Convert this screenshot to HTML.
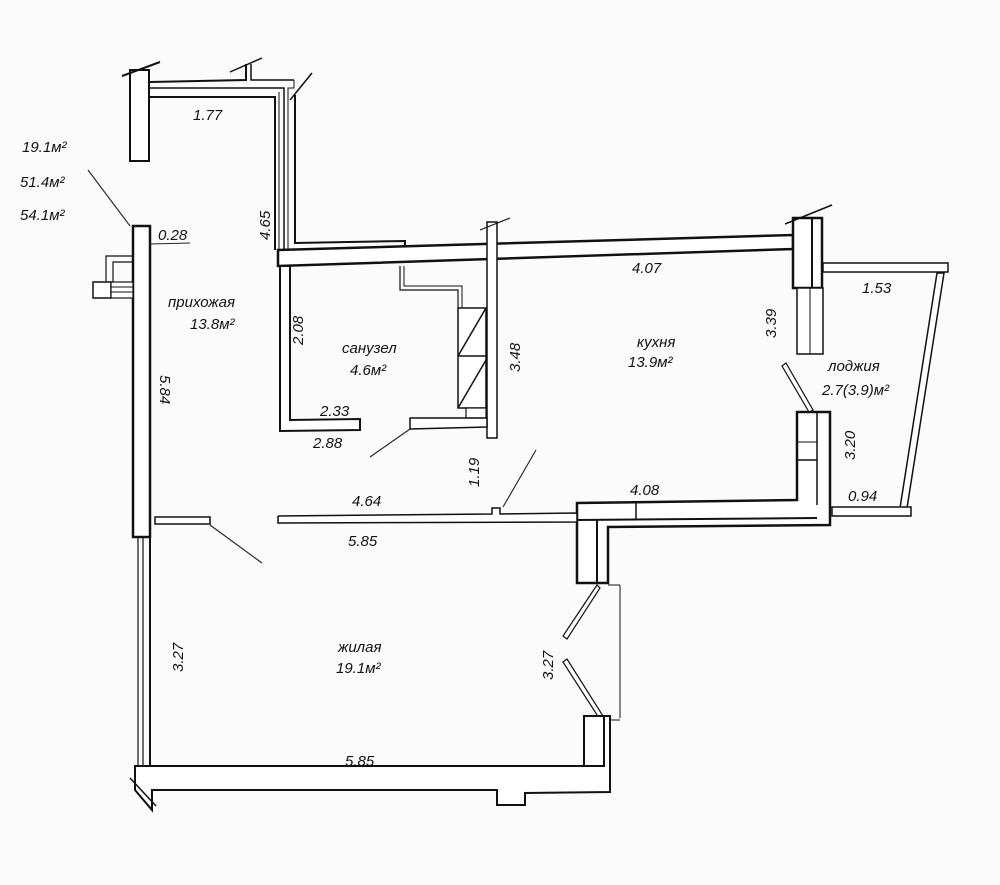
<!DOCTYPE html>
<html><head><meta charset="utf-8"><style>
html,body{margin:0;padding:0;background:#fff}
svg{display:block}
text{font-family:"Liberation Sans",sans-serif;font-style:italic;font-size:15px;fill:#111}
</style></head><body>
<svg width="1000" height="885" viewBox="0 0 1000 885" xmlns="http://www.w3.org/2000/svg">
<rect width="1000" height="885" fill="#fbfbfb"/>
<g fill="#fff" stroke="#111" stroke-width="2">
<!-- top-left stub -->
<rect x="130" y="70" width="19" height="91"/>
<line x1="122" y1="76" x2="160" y2="62"/>
<!-- top corridor walls -->
<polyline fill="none" points="150,82 246,80 246,64"/>
<polyline fill="none" points="251,64 251,80 294,80" stroke-width="1.5"/>
<line x1="230" y1="72" x2="262" y2="58" stroke-width="1.5"/>
<polyline fill="none" points="150,88 284,88 284,250" stroke-width="1.5"/>
<polyline fill="none" points="150,97 275,97 275,250"/>
<polyline fill="none" points="279,92 279,250" stroke-width="1"/>
<polyline fill="none" points="294,80 294,88 288,88 288,250" stroke-width="1"/>
<polyline fill="none" points="295,95 295,243 405,241 405,250"/>
<line x1="290" y1="100" x2="312" y2="73" stroke-width="1.5"/>
<!-- main horizontal wall -->
<polygon points="278,250 793,235 793,249 278,266" stroke-width="2.5"/>
<!-- right pier -->
<rect x="793" y="218" width="29" height="70" stroke-width="2.5"/>
<line x1="812" y1="218" x2="812" y2="288"/>
<rect x="797" y="288" width="26" height="66" stroke-width="1.5"/>
<line x1="810" y1="288" x2="810" y2="354" stroke-width="1"/>
<line x1="785" y1="224" x2="832" y2="205" stroke-width="1.5"/>
<!-- loggia -->
<rect x="823" y="263" width="125" height="9" stroke-width="1.5"/>
<polygon points="937,273 944,273 907,508 900,508" stroke-width="1.5"/>
<rect x="832" y="507" width="79" height="9" stroke-width="1.5"/>
<!-- kitchen right wall & bottom -->
<polygon points="797,412 830,412 830,525 608,527 608,583 577,583 577,503 797,500" stroke-width="2.5"/>
<line x1="817" y1="412" x2="817" y2="505" stroke-width="1.5"/>
<line x1="797" y1="442" x2="817" y2="442" stroke-width="1"/>
<line x1="797" y1="460" x2="817" y2="460" stroke-width="1.5"/>
<line x1="577" y1="520" x2="817" y2="518" stroke-width="2"/>
<line x1="597" y1="520" x2="597" y2="583" stroke-width="2"/>
<line x1="636" y1="503" x2="636" y2="520" stroke-width="1.5"/>
<line x1="608" y1="585" x2="620" y2="585" stroke-width="1"/>
<line x1="620" y1="585" x2="620" y2="718" stroke-width="1"/>
<!-- door leaves -->
<polygon points="782,366 786,363 813,410 809,412" stroke-width="1.2"/>
<polygon points="597,585 600,588 567,639 563,636" stroke-width="1.2"/>
<polygon points="563,662 567,659 603,716 599,718" stroke-width="1.2"/>
<!-- living right lower pier & bottom wall -->
<rect x="584" y="716" width="20" height="50" stroke-width="2"/>
<polyline fill="none" points="604,716 608,716 608,720 620,720" stroke-width="1"/>
<polygon points="135,766 604,766 604,716 610,716 610,792 525,793 525,805 497,805 497,790 152,790 152,810 135,790" stroke-width="2"/>
<line x1="130" y1="778" x2="156" y2="806" stroke-width="1.5"/>
<!-- left wall -->
<rect x="133" y="226" width="17" height="311" stroke-width="2.5"/>
<line x1="138" y1="537" x2="138" y2="766" stroke-width="1.2"/>
<line x1="143" y1="537" x2="143" y2="766" stroke-width="1.2"/>
<line x1="150" y1="537" x2="150" y2="766" stroke-width="2"/>
<!-- vent -->
<polyline fill="none" points="133,256 106,256 106,282" stroke-width="1.2"/>
<polyline fill="none" points="133,262 113,262 113,282" stroke-width="1.2"/>
<rect x="93" y="282" width="18" height="16" stroke-width="1.5"/>
<rect x="111" y="282" width="22" height="16" stroke-width="1.2"/>
<line x1="111" y1="287" x2="133" y2="287" stroke-width="1"/>
<line x1="111" y1="292" x2="133" y2="292" stroke-width="1"/>
<!-- partition -->
<polyline points="278,516 492,514 492,508 500,508 500,514 577,513 577,522 278,523 278,516" stroke-width="1.5"/>
<rect x="155" y="517" width="55" height="7" stroke-width="1.5"/>
<!-- bathroom -->
<polygon points="280,266 290,266 290,420 360,419 360,430 280,431" stroke-width="2"/>
<polyline fill="none" points="400,266 400,290 458,290 458,308" stroke-width="1.2"/>
<polyline fill="none" points="404,266 404,286 462,286 462,308" stroke-width="1"/>
<rect x="458" y="308" width="28" height="100" stroke-width="1.5"/>
<line x1="458" y1="356" x2="486" y2="356" stroke-width="1.5"/>
<line x1="458" y1="356" x2="486" y2="308" stroke-width="1.5"/>
<line x1="458" y1="408" x2="486" y2="360" stroke-width="1.5"/>
<rect x="466" y="408" width="20" height="10" stroke-width="1.2"/>
<polygon points="487,222 497,222 497,438 487,438" stroke-width="1.5"/>
<polygon points="410,418 487,418 487,427 410,429" stroke-width="1.5"/>
<line x1="480" y1="230" x2="510" y2="218" stroke-width="1.2"/>
</g>
<g stroke="#222" stroke-width="1.1">
<line x1="88" y1="170" x2="130" y2="226"/>
<line x1="150" y1="244" x2="190" y2="243"/>
<line x1="210" y1="525" x2="262" y2="563"/>
<line x1="503" y1="507" x2="536" y2="450"/>
<line x1="370" y1="457" x2="410" y2="429"/>
</g>
<text x="22" y="152">19.1м²</text>
<text x="20" y="187">51.4м²</text>
<text x="20" y="220">54.1м²</text>
<text x="193" y="120">1.77</text>
<text x="158" y="240">0.28</text>
<text transform="translate(270,240) rotate(-90)">4.65</text>
<text x="168" y="307">прихожая</text>
<text x="190" y="329">13.8м²</text>
<text transform="translate(160,375) rotate(90)">5.84</text>
<text transform="translate(303,345) rotate(-90)">2.08</text>
<text x="342" y="353">санузел</text>
<text x="350" y="375">4.6м²</text>
<text x="320" y="416">2.33</text>
<text x="313" y="448">2.88</text>
<text transform="translate(520,372) rotate(-90)">3.48</text>
<text transform="translate(479,487) rotate(-90)">1.19</text>
<text x="632" y="273">4.07</text>
<text x="637" y="347">кухня</text>
<text x="628" y="367">13.9м²</text>
<text transform="translate(776,338) rotate(-90)">3.39</text>
<text x="862" y="293">1.53</text>
<text x="828" y="371">лоджия</text>
<text x="822" y="395">2.7(3.9)м²</text>
<text transform="translate(855,460) rotate(-90)">3.20</text>
<text x="848" y="501">0.94</text>
<text x="630" y="495">4.08</text>
<text x="352" y="506">4.64</text>
<text x="348" y="546">5.85</text>
<text transform="translate(183,672) rotate(-90)">3.27</text>
<text x="338" y="652">жилая</text>
<text x="336" y="673">19.1м²</text>
<text transform="translate(553,680) rotate(-90)">3.27</text>
<text x="345" y="766">5.85</text>
</svg>
</body></html>
